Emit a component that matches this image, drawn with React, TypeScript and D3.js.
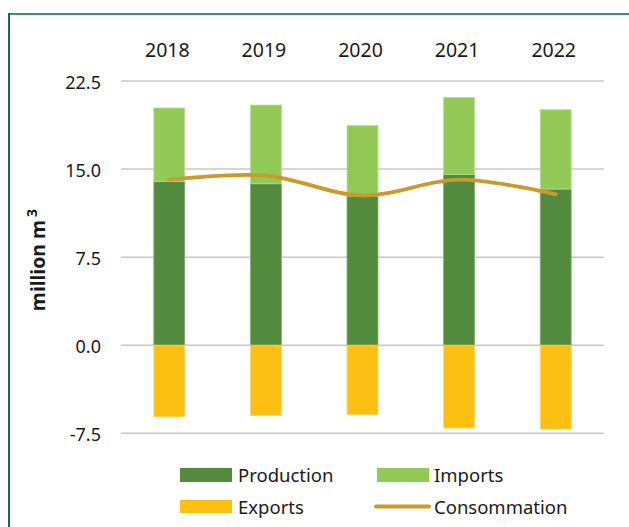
import React from "react";
import * as d3 from "d3";

const years = ["2018", "2019", "2020", "2021", "2022"];
const production = [13.95, 13.75, 12.7, 14.55, 13.3];
const imports = [6.25, 6.7, 6.0, 6.55, 6.75];
const exports = [-6.1, -6.0, -5.9, -7.05, -7.15];
const consommation = [14.1, 14.45, 12.75, 14.1, 12.85];
const yTicks = [-7.5, 0, 7.5, 15, 22.5];

const W = 629;
const H = 527;
const FONT = "'Noto Sans', 'Open Sans', sans-serif";
const C_PROD = "#538B3E";
const C_IMP = "#93C957";
const C_EXP = "#FCC012";
const C_LINE = "#C99A2D";

export default function App() {
  const x = d3.scaleBand<string>().domain(years).range([121, 604]).paddingInner(0.68).paddingOuter(0.34);
  const y = d3.scaleLinear().domain([-7.5, 22.5]).range([433.3, 81]);
  const bw = x.bandwidth();
  const cx = (i: number) => (x(years[i]) as number) + bw / 2;

  const line = d3
    .line<number>()
    .x((_, i) => cx(i))
    .y((d) => y(d))
    .curve(d3.curveCatmullRom.alpha(0.5));

  return (
    <svg
      width={W}
      height={H}
      style={{ position: "absolute", left: 0, top: 0, background: "#fff" }}
      fontFamily={FONT}
    >
      {/* frame */}
      <line x1={9} x2={W} y1={14} y2={14} stroke="#3f8c80" strokeWidth={2} />
      <line x1={9} x2={9} y1={13} y2={H} stroke="#17665b" strokeWidth={2} />

      {/* gridlines */}
      {yTicks.map((t) => (
        <line key={t} x1={121} x2={604} y1={y(t)} y2={y(t)} stroke="#c9c9c9" strokeWidth={1.5} />
      ))}
      {yTicks.map((t) => (
        <text key={"l" + t} x={101} y={y(t) + 7.5} textAnchor="end" fontSize={18} fill="#1a1a1a">
          {t.toFixed(1)}
        </text>
      ))}

      {/* year labels */}
      {years.map((yr, i) => (
        <text key={yr} x={cx(i) - 2} y={57} textAnchor="middle" fontSize={19.5} fill="#1a1a1a">
          {yr}
        </text>
      ))}

      {/* bars */}
      {years.map((yr, i) => (
        <g key={"b" + yr}>
          <rect x={x(yr)} y={y(production[i])} width={bw} height={y(0) - y(production[i])} fill={C_PROD} stroke="#7fae6c" strokeWidth={0.8} />
          <rect x={x(yr)} y={y(production[i] + imports[i])} width={bw} height={y(production[i]) - y(production[i] + imports[i])} fill={C_IMP} stroke="#b7de94" strokeWidth={0.8} />
          <rect x={x(yr)} y={y(0)} width={bw} height={y(exports[i]) - y(0)} fill={C_EXP} stroke="#fdd866" strokeWidth={0.8} />
        </g>
      ))}

      {/* consommation line */}
      <path d={line(consommation) || ""} fill="none" stroke={C_LINE} strokeWidth={3.8} strokeLinecap="round" />

      {/* y axis title */}
      <text transform="translate(45,260) rotate(-90)" textAnchor="middle" fontSize={19.5} fontWeight="bold" fill="#1a1a1a">
        million m<tspan dx={3} dy={-8} fontSize={14}>3</tspan>
      </text>

      {/* legend */}
      <rect x={180} y={468} width={52} height={14} fill={C_PROD} />
      <text x={238} y={482} fontSize={18.5} fill="#1a1a1a">Production</text>
      <rect x={377} y={468} width={52} height={14} fill={C_IMP} />
      <text x={434} y={482} fontSize={18.5} fill="#1a1a1a">Imports</text>
      <rect x={180} y={500} width={52} height={13} fill={C_EXP} />
      <text x={238} y={514} fontSize={18.5} fill="#1a1a1a">Exports</text>
      <line x1={376} x2={429} y1={506.5} y2={506.5} stroke={C_LINE} strokeWidth={3.8} strokeLinecap="round" />
      <text x={434} y={514} fontSize={18.5} fill="#1a1a1a">Consommation</text>
    </svg>
  );
}
